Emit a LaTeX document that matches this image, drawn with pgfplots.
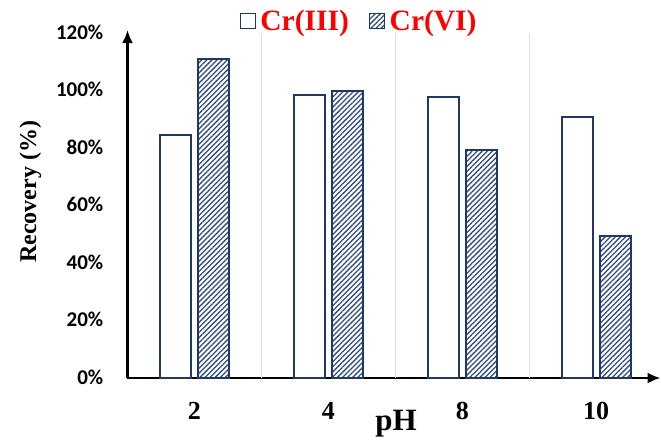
\documentclass[border=0pt]{standalone}
\usepackage{pgfplots}
\pgfplotsset{compat=1.18}
\usepackage{fontspec}
\setmainfont{Liberation Serif}
\newfontfamily\carlito{Carlito}
\usetikzlibrary{patterns.meta,arrows.meta}
\definecolor{navy}{HTML}{1F3864}
\definecolor{hatch}{HTML}{2F4B82}
\begin{document}
\begin{tikzpicture}
\useasboundingbox (-127.5pt,-67pt) rectangle (533.5pt,378pt);
\begin{axis}[
  scale only axis,
  width=533pt, height=347.9pt,
  xmin=-0.5, xmax=3.48,
  ymin=0, ymax=121,
  axis lines=left,
  axis line style={line width=2.2pt, -{Latex[length=13pt,width=11pt]}},
  ybar,
  bar width=31pt,
  xtick={0,1,2,3},
  xticklabels={2,4,8,10},
  ytick={0,20,40,60,80,100,120},
  yticklabel={\pgfmathprintnumber[assume math mode=true]{\tick}\%},
  major tick length=0pt,
  xticklabel style={font=\bfseries\fontsize{26}{26}\selectfont, anchor=base, yshift=-41pt},
  yticklabel style={font=\carlito\bfseries\fontsize{21}{21}\selectfont, anchor=east, inner sep=0pt, xshift=-24pt, yshift=1pt},
  xlabel={pH},
  ylabel={Recovery (\%)},
  every axis x label/.style={at={(rel axis cs:0.504,0)}, yshift=-52pt, anchor=base, font=\bfseries\fontsize{31}{31}\selectfont},
  every axis y label/.style={at={(rel axis cs:0,0.535)}, xshift=-97pt, rotate=90, anchor=center, font=\bfseries\fontsize{24}{24}\selectfont},
  legend columns=2,
  legend style={at={(rel axis cs:0.21,1.026)}, anchor=west, draw=none, fill=none, inner sep=0pt,
    font=\bfseries\fontsize{29.5}{29.5}\selectfont, text=red,
    /tikz/every odd column/.append style={column sep=2.5pt},
    /tikz/every even column/.append style={column sep=18pt}},
  legend image code/.code={\draw[#1, line width=1.3pt] (0pt,-7.5pt) rectangle (15pt,7.5pt);},
  clip=false,
]
\draw[gray!25, line width=1pt] (axis cs:0.5,0) -- (axis cs:0.5,120);
\draw[gray!25, line width=1pt] (axis cs:1.5,0) -- (axis cs:1.5,120);
\draw[gray!25, line width=1pt] (axis cs:2.5,0) -- (axis cs:2.5,120);
\addplot[bar shift=-19pt, draw=navy, fill=white, line width=1.6pt]
  coordinates {(0,84.5) (1,98.4) (2,97.7) (3,90.8)};
\addlegendentry{Cr(III)}
\addplot[bar shift=19pt, draw=navy, line width=1.6pt,
  pattern={Lines[angle=45,distance=3.6pt,line width=1.3pt]}, pattern color=hatch]
  coordinates {(0,111.0) (1,99.8) (2,79.3) (3,49.4)};
\addlegendentry{Cr(VI)}
\end{axis}
\end{tikzpicture}
\end{document}
